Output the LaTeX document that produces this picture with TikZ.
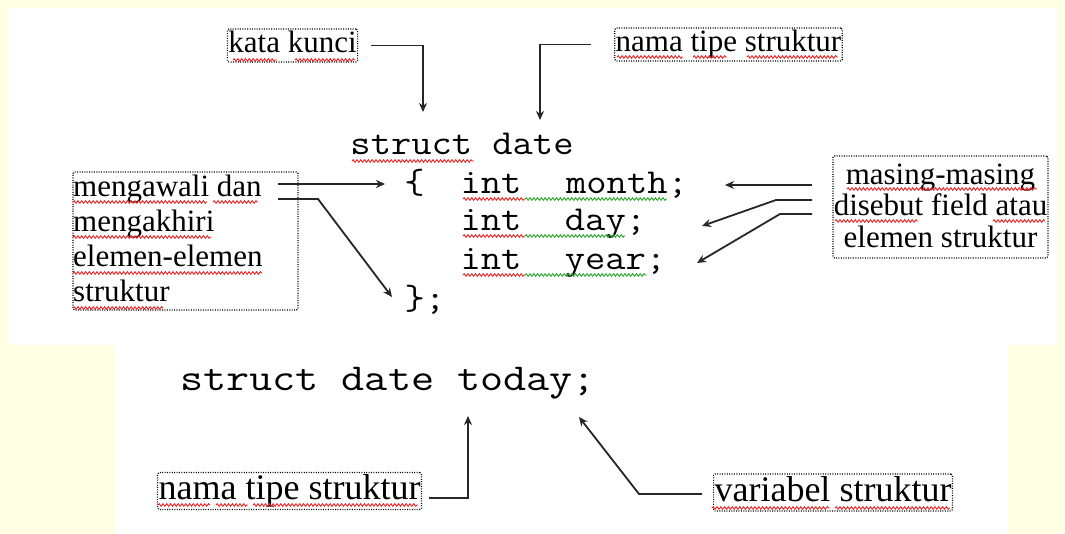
\documentclass[tikz,border=0pt]{standalone}
\usepackage{fontspec}
\setmainfont{Liberation Serif}
\usepackage{graphicx}
\usetikzlibrary{arrows.meta,decorations.pathmorphing}

\definecolor{pagebg}{RGB}{255,255,228}
\definecolor{spellred}{RGB}{235,35,35}
\definecolor{grammargreen}{RGB}{40,165,40}

% monospace code, widened to typewriter proportions
\newcommand\topcode[1]{\scalebox{1.125}[1]{#1}}
\newcommand\botcode[1]{\scalebox{1.18}[1]{#1}}

\tikzset{
  dotline/.style={draw=black, line width=1.1pt, dash pattern=on 1pt off 1.4pt, rounded corners=1.5pt},
  lbl/.style={dotline, inner xsep=1pt, inner ysep=2pt,
    font=\fontsize{31}{35}\selectfont, text height=22pt, text depth=7pt},
  lblbig/.style={dotline, inner xsep=1pt, inner ysep=2pt,
    font=\fontsize{36}{40}\selectfont, text height=25pt, text depth=8pt},
  dotframe/.style={dotline, inner sep=0pt},
  txt/.style={inner sep=0pt, font=\fontsize{31}{35}\selectfont},
  codetxt/.style={inner sep=0pt, anchor=base, font=\fontsize{35}{40}\ttfamily},
  codebig/.style={inner sep=0pt, anchor=base, font=\fontsize{38}{44}\ttfamily},
  conn/.style={draw=black!85, line width=1.8pt, -{Stealth[length=9pt,width=8pt]}},
  spellline/.style={draw=spellred, line width=0.9pt, decorate,
    decoration={snake, amplitude=1.3pt, segment length=3.8pt}},
  gramline/.style={spellline, draw=grammargreen},
}

\begin{document}
\begin{tikzpicture}[x=1pt,y=-1pt]
  % page and the two white panels
  \fill[pagebg] (0,0) rectangle (1065,534);
  \useasboundingbox (0,0) rectangle (1065,534);
  \fill[white] (9,8) rectangle (1057,345);
  \fill[white] (115,345) rectangle (1008,534);

  % ---- structure declaration ----
  \node[codetxt] (head)   at (462,155)   {\topcode{struct date}};
  \node[codetxt] (lbrace) at (414.5,194) {\topcode{\{}};
  \node[codetxt] (int1)   at (491,194)   {\topcode{int}};
  \node[codetxt] (month)  at (627,194)   {\topcode{month;}};
  \node[codetxt] (int2)   at (491,231)   {\topcode{int}};
  \node[codetxt] (day)    at (605.5,231) {\topcode{day;}};
  \node[codetxt] (int3)   at (491,270)   {\topcode{int}};
  \node[codetxt] (year)   at (615.5,270) {\topcode{year;}};
  \node[codetxt] (rbrace) at (425,310)   {\topcode{\};}};

  % spell-check marks under the code
  \draw[spellline] (352,161) -- (474,161);
  \draw[spellline] (463,199) -- (525,199);
  \draw[gramline]  (525,199) -- (667,199);
  \draw[spellline] (463,236) -- (525,236);
  \draw[gramline]  (525,236) -- (625,236);
  \draw[spellline] (463,275) -- (525,275);
  \draw[gramline]  (525,275) -- (647,275);

  % ---- labels above ----
  \node[lbl] (kw)    at (292.5,45.5) {kata kunci};
  \node[lbl] (tname) at (728.5,44.5) {nama tipe struktur};
  \draw[spellline] (233,60) -- (277,60);
  \draw[spellline] (295,60) -- (355,60);
  \draw[spellline] (617,57) -- (683,57);
  \draw[spellline] (693,57) -- (727,57);
  \draw[spellline] (747,57) -- (838,57);

  \coordinate (kwTip) at (423,112);
  \coordinate (tnTip) at (540,120);
  \draw[conn] ([xshift=13pt]kw.east) -| (kwTip);
  \draw[conn] ([xshift=-23pt]tname.west) -| (tnTip);

  % ---- left label: braces ----
  \node[dotframe, minimum width=225pt, minimum height=138pt] (bframe) at (185.5,241) {};
  \node[txt, anchor=base west] (b1) at (73,197) {mengawali dan};
  \node[txt, anchor=base west] (b2) at (73,232) {mengakhiri};
  \node[txt, anchor=base west] (b3) at (73,267) {elemen-elemen};
  \node[txt, anchor=base west] (b4) at (73,302) {struktur};
  \draw[spellline] (73,202) -- (207,202);
  \draw[spellline] (213,202) -- (258,202);
  \draw[spellline] (73,237) -- (211,237);
  \draw[spellline] (73,273) -- (262,273);
  \draw[spellline] (73,308) -- (163,308);

  \coordinate (bs1) at (278,184);
  \coordinate (bt1) at (385,184);
  \coordinate (bs2) at (278,199);
  \coordinate (bk2) at (318,199);
  \coordinate (bt2) at (392,297);
  \draw[conn] (bs1) -- (bt1);
  \draw[conn] (bs2) -- (bk2) -- (bt2);

  % ---- right label: fields ----
  \node[dotframe, minimum width=215pt, minimum height=102pt] (fframe) at (940.5,207) {};
  \node[txt, anchor=base] (f1) at (940.5,185) {masing-masing};
  \node[txt, anchor=base] (f2) at (940.5,216) {disebut field atau};
  \node[txt, anchor=base] (f3) at (940.5,248) {elemen struktur};
  \draw[spellline] (847,189) -- (1037,189);
  \draw[spellline] (835,221) -- (918,221);
  \draw[spellline] (993,221) -- (1045,221);

  \coordinate (fs1) at (812,185);
  \coordinate (ft1) at (725,185);
  \coordinate (fs2) at (812,200);
  \coordinate (fk2) at (776,200);
  \coordinate (ft2) at (702,226);
  \coordinate (fs3) at (812,214);
  \coordinate (fk3) at (780,214);
  \coordinate (ft3) at (697,263);
  \draw[conn] (fs1) -- (ft1);
  \draw[conn] (fs2) -- (fk2) -- (ft2);
  \draw[conn] (fs3) -- (fk3) -- (ft3);

  % ---- variable declaration ----
  \node[codebig] (decl) at (388,390) {\botcode{struct date today;}};

  \node[lblbig] (tname2) at (289.5,491)  {nama tipe struktur};
  \node[lblbig] (var)    at (833,492.5)  {variabel struktur};
  \draw[spellline] (158,505) -- (210,505);
  \draw[spellline] (216,505) -- (248,505);
  \draw[spellline] (253,505) -- (418,505);
  \draw[spellline] (712,508) -- (830,508);
  \draw[spellline] (835,508) -- (950,508);

  \coordinate (ts2) at (429,498);
  \coordinate (tk2) at (468,498);
  \coordinate (tt2) at (468,416);
  \coordinate (vs) at (702,494);
  \coordinate (vk) at (639,494);
  \coordinate (vt) at (579,417);
  \draw[conn] (ts2) -- (tk2) -- (tt2);
  \draw[conn] (vs) -- (vk) -- (vt);
\end{tikzpicture}
\end{document}
